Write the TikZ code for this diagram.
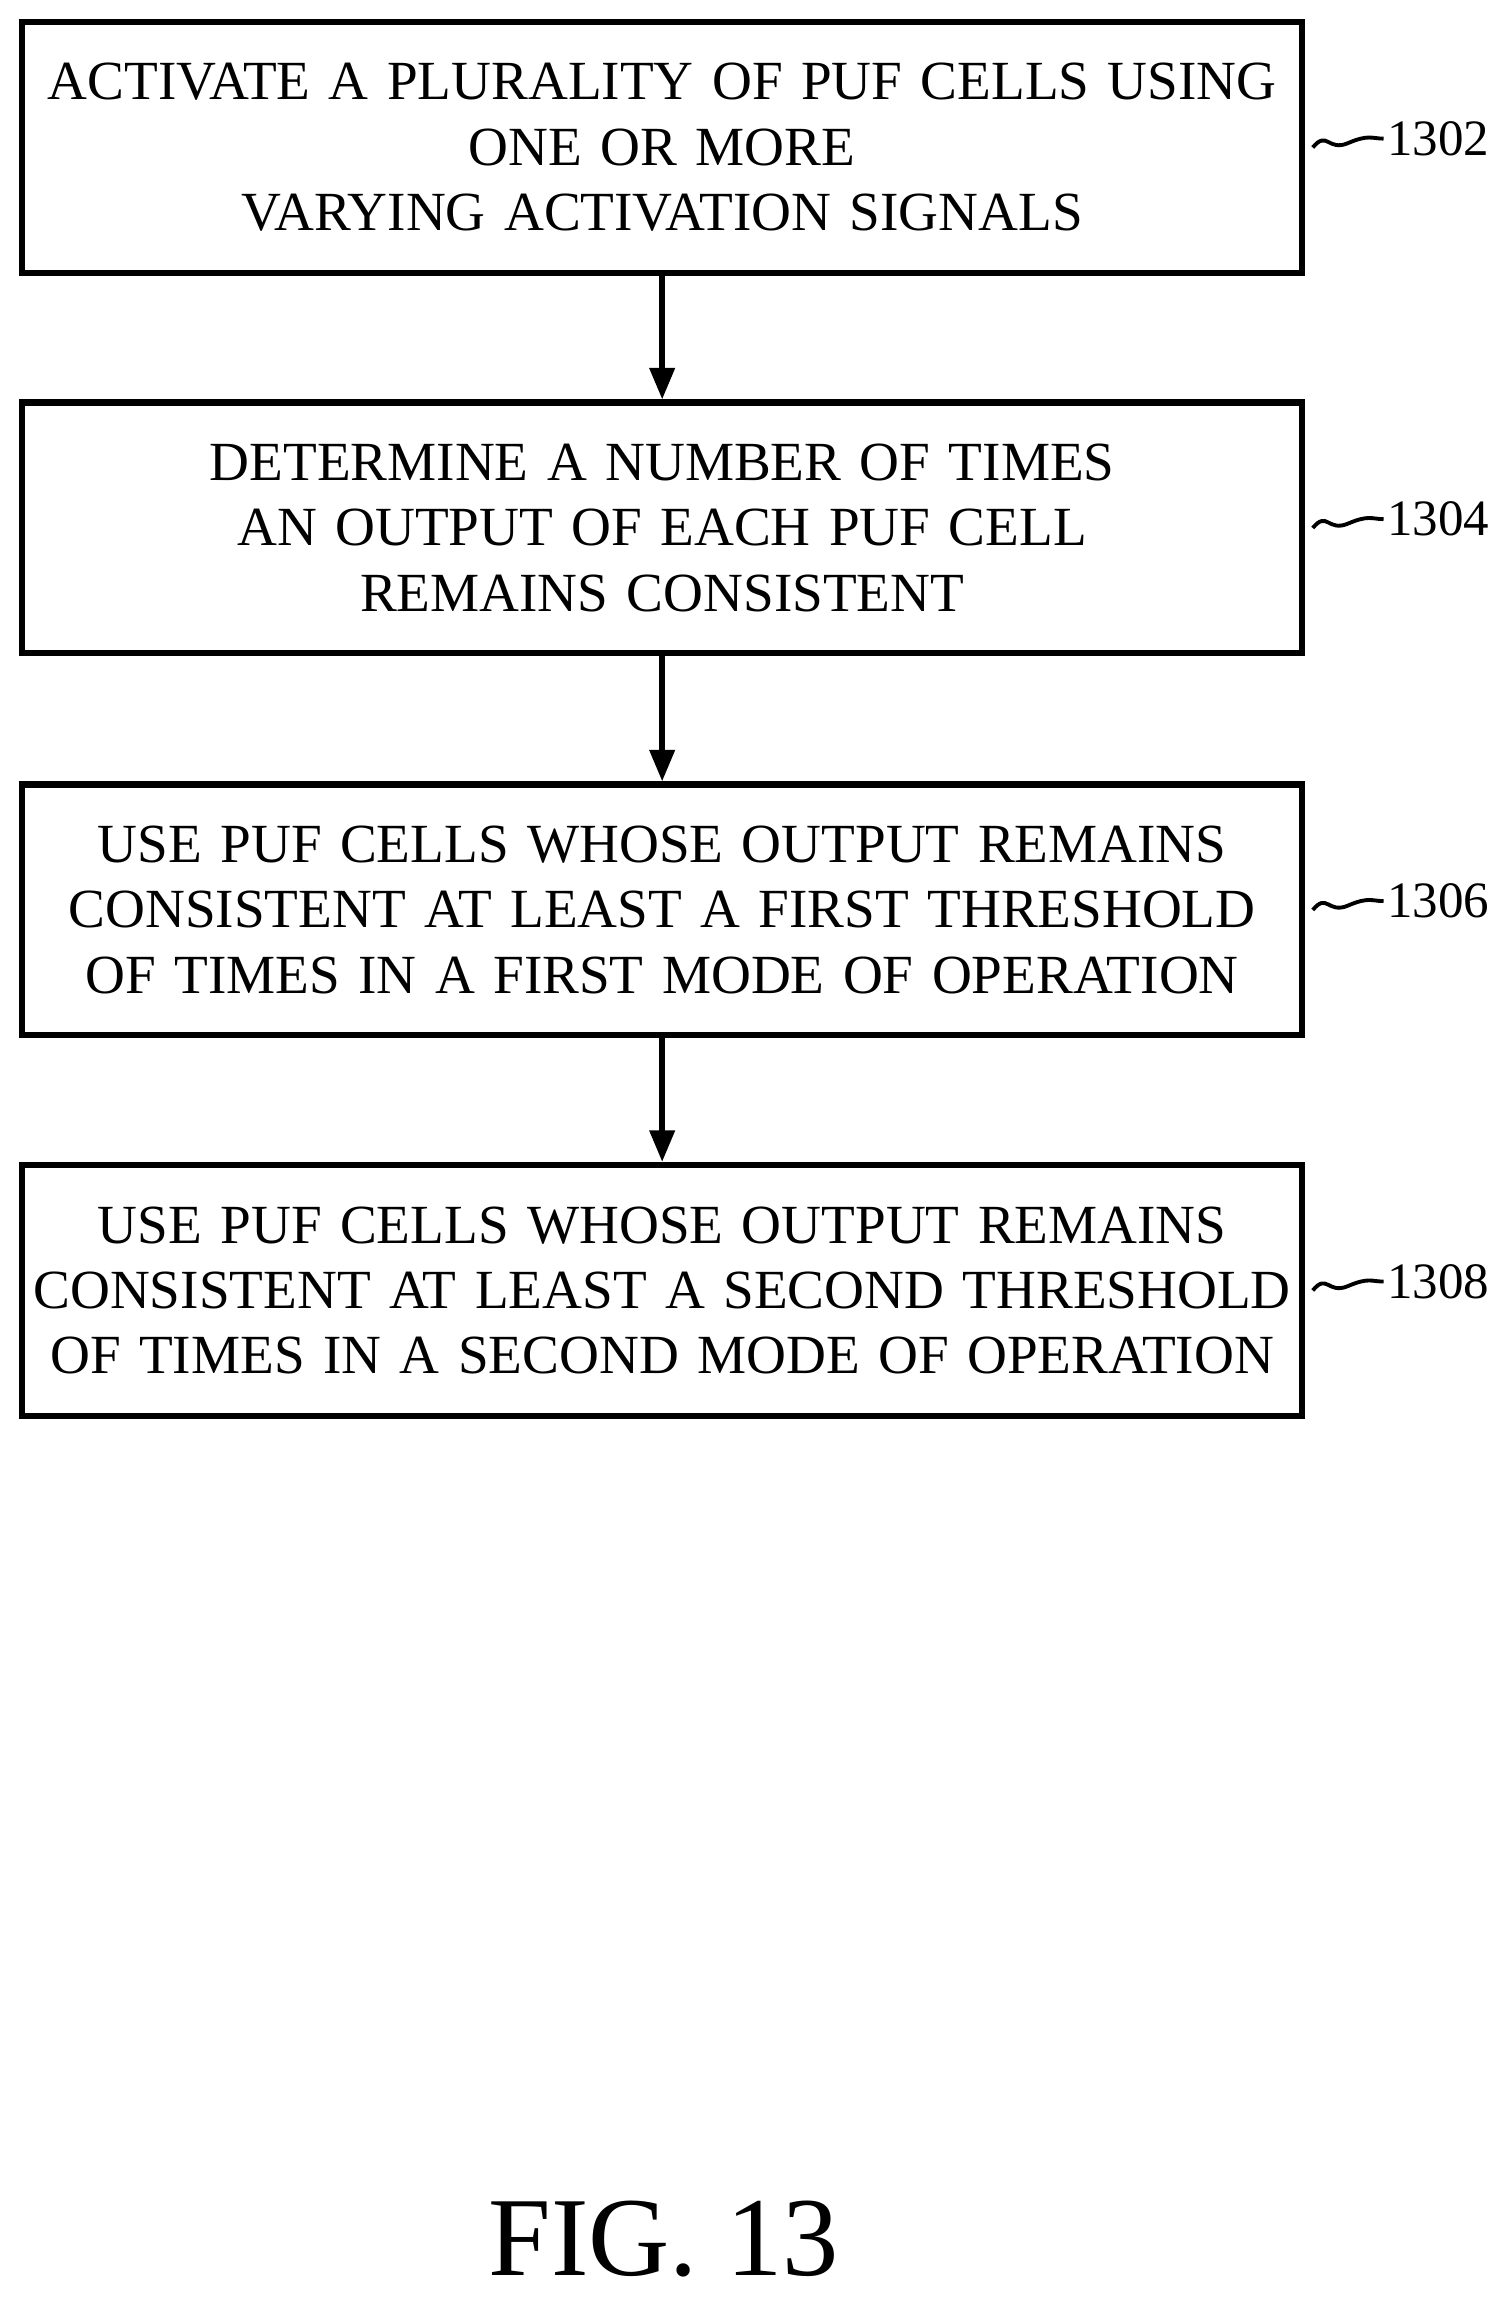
\documentclass[tikz,border=0pt]{standalone}
\usepackage{fontspec}
\setmainfont{Liberation Serif}
\usetikzlibrary{arrows.meta,positioning}
\tikzset{
  stepbox/.style={draw,line width=1.8pt,minimum width=868*0.014746cm,minimum height=170*0.014746cm,
    text width=866*0.014746cm,align=center,inner sep=0pt,font=\fontsize{15.7}{18.6}\selectfont},
  flow/.style={-{Triangle[length=9pt,width=7pt]},line width=1.6pt},
  tag/.style={font=\fontsize{14.5}{18}\selectfont,anchor=west,inner sep=0pt},
  squig/.style={line width=1.1pt}
}
\begin{document}
\begin{tikzpicture}[x=0.014746cm,y=-0.014746cm]
  \useasboundingbox (0,0) rectangle (1024,1565);
  % Steps
  \node[stepbox] (s1) at (449,100) {ACTIVATE A PLURALITY OF PUF CELLS USING\\ONE OR MORE\\VARYING ACTIVATION SIGNALS};
  \node[stepbox] (s2) at (449,358) {DETERMINE A NUMBER OF TIMES\\AN OUTPUT OF EACH PUF CELL\\REMAINS CONSISTENT};
  \node[stepbox] (s3) at (449,617) {USE PUF CELLS WHOSE OUTPUT REMAINS\\CONSISTENT AT LEAST A FIRST THRESHOLD\\OF TIMES IN A FIRST MODE OF OPERATION};
  \node[stepbox] (s4) at (449,875) {USE PUF CELLS WHOSE OUTPUT REMAINS\\CONSISTENT AT LEAST A SECOND THRESHOLD\\OF TIMES IN A SECOND MODE OF OPERATION};
  % Arrows
  \draw[flow] (s1) -- (s2);
  \draw[flow] (s2) -- (s3);
  \draw[flow] (s3) -- (s4);
  % Reference numbers
  \foreach \n/\lab in {s1/1302,s2/1304,s3/1306,s4/1308}{
    \coordinate (a\n) at ([xshift=5*0.014746cm]\n.east);
    \draw[squig] (a\n) .. controls +(10*0.014746cm,12*0.014746cm) and +(-14*0.014746cm,-6*0.014746cm) .. ++(24*0.014746cm,3*0.014746cm)
      .. controls +(14*0.014746cm,6*0.014746cm) and +(-8*0.014746cm,0) .. ++(24*0.014746cm,3*0.014746cm) coordinate (b\n);
    \node[tag] at ([xshift=2*0.014746cm]b\n) {\lab};
  }
  % Figure label
  \node[font=\fontsize{32}{38}\selectfont] (fig) at (450,1518) {FIG. 13};
\end{tikzpicture}
\end{document}
